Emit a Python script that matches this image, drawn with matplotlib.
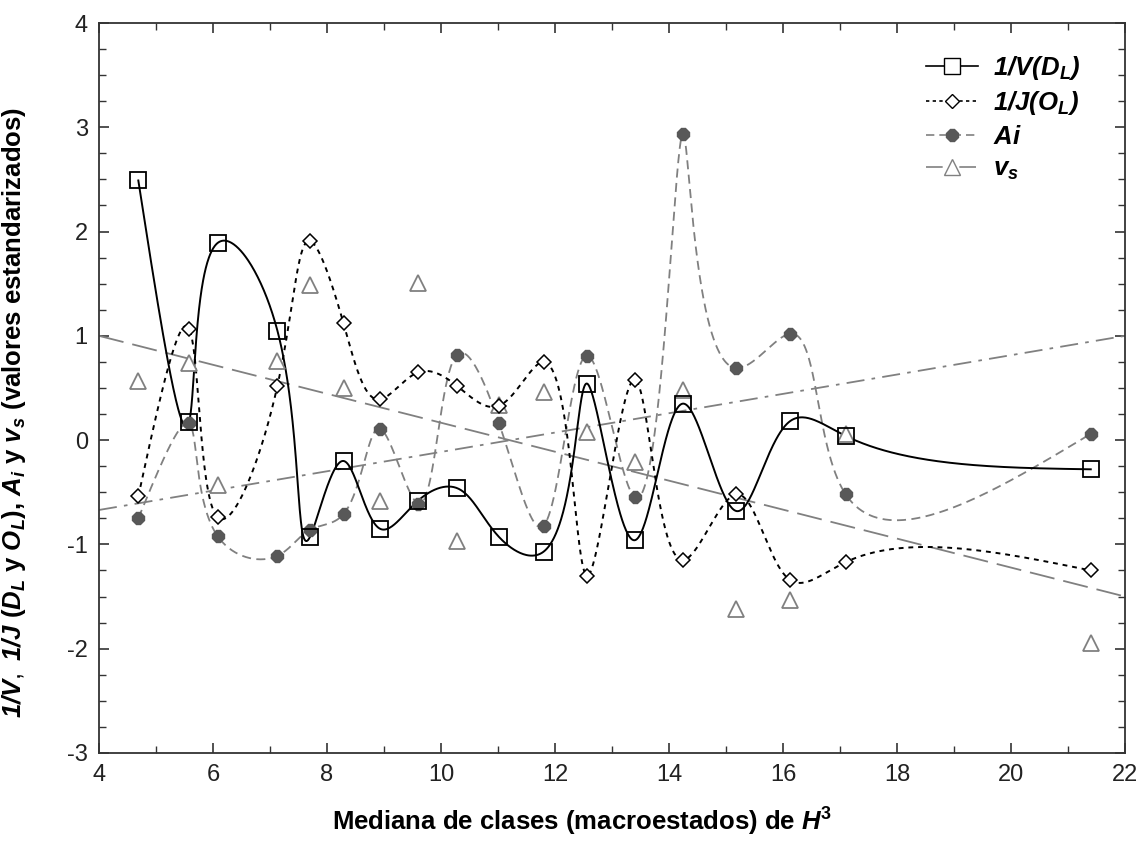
import numpy as np
import matplotlib
matplotlib.use("Agg")
from matplotlib import pyplot as plt
from matplotlib.ticker import MultipleLocator

# class medians of H^3 (x) and standardized values for each variable
mediana = [4.69, 5.58, 6.08, 7.13, 7.70, 8.29, 8.93, 9.60, 10.28,
           11.02, 11.80, 12.57, 13.40, 14.25, 15.18, 16.12, 17.10, 21.40]
inv_v = [2.49, 0.17, 1.89, 1.05, -0.93, -0.20, -0.85, -0.58, -0.46,
         -0.93, -1.07, 0.54, -0.96, 0.35, -0.68, 0.18, 0.04, -0.28]
inv_j = [-0.54, 1.07, -0.74, 0.52, 1.91, 1.12, 0.39, 0.65, 0.52,
         0.33, 0.75, -1.30, 0.58, -1.15, -0.52, -1.34, -1.17, -1.25]
ai = [-0.75, 0.16, -0.92, -1.11, -0.86, -0.71, 0.11, -0.61, 0.82,
      0.16, -0.82, 0.81, -0.55, 2.94, 0.69, 1.02, -0.52, 0.06]
vs = [0.57, 0.74, -0.43, 0.76, 1.49, 0.50, -0.58, 1.51, -0.97,
      0.34, 0.46, 0.08, -0.21, 0.48, -1.62, -1.53, 0.06, -1.95]

# linear fits, values at the ends of the x range
trend_x = [4, 22]
vs_trend = [1.0, -1.5]
ai_trend = [-0.67, 1.0]


def natural_spline(t, v, tt):
    """Natural cubic spline through (t, v), evaluated at tt."""
    t = np.asarray(t, float)
    v = np.asarray(v, float)
    n = len(t)
    h = np.diff(t)
    A = np.zeros((n, n))
    r = np.zeros(n)
    A[0, 0] = 1
    A[-1, -1] = 1
    for i in range(1, n - 1):
        A[i, i - 1] = h[i - 1]
        A[i, i] = 2 * (h[i - 1] + h[i])
        A[i, i + 1] = h[i]
        r[i] = 6 * ((v[i + 1] - v[i]) / h[i] - (v[i] - v[i - 1]) / h[i - 1])
    M = np.linalg.solve(A, r)
    k = np.clip(np.searchsorted(t, tt) - 1, 0, n - 2)
    t0 = t[k + 1] - tt
    t1 = tt - t[k]
    hk = h[k]
    return (M[k] * t0**3 / (6 * hk) + M[k + 1] * t1**3 / (6 * hk)
            + (v[k] / hk - M[k] * hk / 6) * t0
            + (v[k + 1] / hk - M[k + 1] * hk / 6) * t1)


def smooth_curve(x, y, sx=57.0, sy=104.3, alpha=0.7, num=1500):
    """Parametric spline, parameter from chord lengths in screen units."""
    x = np.asarray(x, float)
    y = np.asarray(y, float)
    d = np.hypot(np.diff(x) * sx, np.diff(y) * sy) ** alpha
    t = np.concatenate([[0], np.cumsum(d)])
    tt = np.linspace(0, t[-1], num)
    return natural_spline(t, x, tt), natural_spline(t, y, tt)


plt.rcParams['font.family'] = ['Liberation Sans', 'DejaVu Sans']
plt.rcParams['axes.unicode_minus'] = False
plt.rcParams['mathtext.fontset'] = 'custom'
plt.rcParams['mathtext.rm'] = 'Liberation Sans'
plt.rcParams['mathtext.it'] = 'Liberation Sans:italic'
plt.rcParams['mathtext.bf'] = 'Liberation Sans:bold'
plt.rcParams['mathtext.bfit'] = 'Liberation Sans:italic:bold'

fig = plt.figure(figsize=(11.47, 8.46), dpi=100)
ax = fig.add_axes([0.0863, 0.110, 0.8945, 0.8628])

gray = '#808080'
dark = '#585858'

# trend lines
ax.plot(trend_x, vs_trend, color=gray, lw=1.3, dashes=(14, 5))
ax.plot(trend_x, ai_trend, color=gray, lw=1.3, dashes=(10, 4, 2, 4))

# splines
cx, cy = smooth_curve(mediana, ai)
ax.plot(cx, cy, color=gray, lw=1.3, dashes=(5, 3))
cx, cy = smooth_curve(mediana, inv_j)
ax.plot(cx, cy, color='black', lw=1.4, dashes=(2.5, 2.5))
cx, cy = smooth_curve(mediana, inv_v)
ax.plot(cx, cy, color='black', lw=1.4)

# markers
ax.plot(mediana, vs, ls='none', marker='^', ms=11, mfc='white', mec=gray, mew=1.3)
ax.plot(mediana, ai, ls='none', marker='8', ms=9, mfc=dark, mec=dark)
ax.plot(mediana, inv_j, ls='none', marker='D', ms=7, mfc='white', mec='black', mew=1.1)
ax.plot(mediana, inv_v, ls='none', marker='s', ms=11, mfc='none', mec='black', mew=1.3)

# legend handles
h1, = ax.plot([], [], color='black', lw=1.2, marker='s', ms=11, mfc='white', mec='black')
h2, = ax.plot([], [], color='black', lw=1.2, dashes=(2, 2), marker='D', ms=7, mfc='white', mec='black')
h3, = ax.plot([], [], color=gray, lw=1.2, dashes=(5, 3), marker='8', ms=9, mfc=dark, mec=dark)
h4, = ax.plot([], [], color=gray, lw=1.2, dashes=(10, 4, 2, 4), marker='^', ms=11, mfc='white', mec=gray)
ax.legend([h1, h2, h3, h4],
          [r'$\mathbfit{1/V(D_L)}$', r'$\mathbfit{1/J(O_L)}$',
           r'$\mathbfit{Ai}$', r'$\mathbfit{v_s}$'],
          loc='upper right', bbox_to_anchor=(0.967, 0.972), frameon=False,
          fontsize=18.5, handlelength=2.0, handletextpad=0.6,
          labelspacing=0.3, borderaxespad=0)

ax.set_xlim(4, 22)
ax.set_ylim(-3, 4)
ax.xaxis.set_major_locator(MultipleLocator(2))
ax.xaxis.set_minor_locator(MultipleLocator(1))
ax.yaxis.set_major_locator(MultipleLocator(1))
ax.yaxis.set_minor_locator(MultipleLocator(0.25))
ax.tick_params(which='both', direction='in', top=True, right=True,
               labelsize=17, labelcolor='#222222', color='#333333', pad=8)
ax.tick_params(which='major', length=7, width=1.2)
ax.tick_params(which='minor', length=5, width=1.0)
for s in ax.spines.values():
    s.set_linewidth(1.3)
    s.set_color('#333333')

ax.set_xlabel(r'Mediana de clases (macroestados) de $\mathbfit{H}^{\mathbf{3}}$',
              fontsize=18.5, fontweight='bold')
ax.xaxis.set_label_coords(0.471, -0.072)
ax.set_ylabel(r'$\mathbfit{1/V},\ \mathbfit{1/J}$ ($\mathbfit{D_L}$ y $\mathbfit{O_L}$), '
              r'$\mathbfit{A_i}$ y $\mathbfit{v_s}$ (valores estandarizados)',
              fontsize=18.5, fontweight='bold')
ax.yaxis.set_label_coords(-0.069, 0.467)

fig.savefig('out.png', dpi=100)
